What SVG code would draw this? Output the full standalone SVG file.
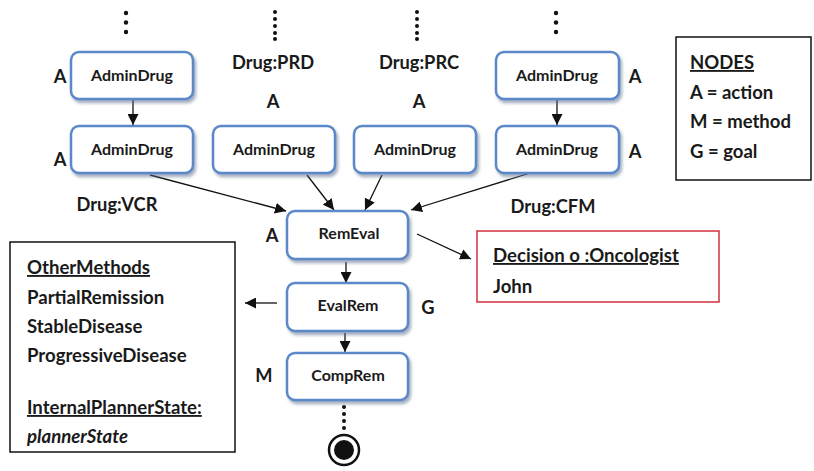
<svg xmlns="http://www.w3.org/2000/svg" width="814" height="471" viewBox="0 0 814 471">
<style>
.box{fill:#ffffff;stroke:#5a88c8;stroke-width:2.5;filter:url(#sh)}
.bt{font-family:Lato,"Liberation Sans",sans-serif;font-weight:bold;font-size:16px;fill:#1a1a1a;text-anchor:middle}
.lbl{font-family:Lato,"Liberation Sans",sans-serif;font-weight:bold;font-size:18.3px;fill:#1a1a1a;text-anchor:middle}
.tx{font-family:Lato,"Liberation Sans",sans-serif;font-weight:bold;font-size:18.6px;fill:#1a1a1a}
.lg{font-family:Lato,"Liberation Sans",sans-serif;font-weight:bold;font-size:18.5px;fill:#1a1a1a}
.u{text-decoration:underline}
.edge{stroke:#111;stroke-width:1.3;fill:none}
.dot{fill:#111}
</style>
<defs>
<filter id="sh" x="-10%" y="-10%" width="125%" height="135%">
<feDropShadow dx="2" dy="3" stdDeviation="1.5" flood-color="#5d6f90" flood-opacity="0.55"/>
</filter>
<marker id="ahb" viewBox="0 0 10 10" refX="10" refY="5" markerWidth="11" markerHeight="11" markerUnits="userSpaceOnUse" orient="auto">
<path d="M0,0 L10,5 L0,10 z" fill="#111"/>
</marker>
</defs>

<g id="connectors">
<line class="edge" x1="133" y1="100" x2="133" y2="125" marker-end="url(#ahb)"/>
<line class="edge" x1="150" y1="175" x2="286" y2="211" marker-end="url(#ahb)"/>
<line class="edge" x1="307" y1="175" x2="334" y2="210" marker-end="url(#ahb)"/>
<line class="edge" x1="382" y1="175" x2="365" y2="210" marker-end="url(#ahb)"/>
<line class="edge" x1="530" y1="173" x2="411" y2="210" marker-end="url(#ahb)"/>
<line class="edge" x1="557" y1="100" x2="557" y2="125" marker-end="url(#ahb)"/>
<line class="edge" x1="417" y1="234" x2="471" y2="259" marker-end="url(#ahb)"/>
<line class="edge" x1="346" y1="262" x2="346" y2="283" marker-end="url(#ahb)"/>
<line class="edge" x1="345" y1="333" x2="345" y2="352" marker-end="url(#ahb)"/>
<line class="edge" x1="277" y1="303" x2="245" y2="303" marker-end="url(#ahb)"/>
</g>

<g id="dots">
<circle class="dot" cx="126" cy="13" r="2.2"/><circle class="dot" cx="126" cy="22.5" r="2.2"/><circle class="dot" cx="126" cy="32" r="2.2"/>
<circle class="dot" cx="275" cy="12" r="2"/><circle class="dot" cx="275" cy="19" r="2"/><circle class="dot" cx="275" cy="26" r="2"/><circle class="dot" cx="275" cy="33" r="2"/><circle class="dot" cx="275" cy="39" r="2"/>
<circle class="dot" cx="417" cy="12" r="2"/><circle class="dot" cx="417" cy="19" r="2"/><circle class="dot" cx="417" cy="26" r="2"/><circle class="dot" cx="417" cy="33" r="2"/><circle class="dot" cx="417" cy="39" r="2"/>
<circle class="dot" cx="556" cy="13" r="2.2"/><circle class="dot" cx="556" cy="22.5" r="2.2"/><circle class="dot" cx="556" cy="32" r="2.2"/>
<circle class="dot" cx="344" cy="407" r="2"/><circle class="dot" cx="344" cy="414" r="2"/><circle class="dot" cx="344" cy="421" r="2"/><circle class="dot" cx="344" cy="428" r="2"/>
</g>

<g id="n1"><rect class="box" x="71" y="52" width="122" height="47" rx="8"/><text class="bt" x="132" y="81">AdminDrug</text><text class="lbl" x="60" y="83">A</text></g>
<g id="n2"><rect class="box" x="71" y="126" width="122" height="47" rx="8"/><text class="bt" x="132" y="155">AdminDrug</text><text class="lbl" x="60" y="166">A</text><text class="lbl" x="117" y="211">Drug:VCR</text></g>
<g id="n3"><rect class="box" x="213" y="126" width="122" height="47" rx="8"/><text class="bt" x="274" y="155">AdminDrug</text><text class="lbl" x="273" y="69">Drug:PRD</text><text class="lbl" x="273" y="108">A</text></g>
<g id="n4"><rect class="box" x="354" y="126" width="122" height="47" rx="8"/><text class="bt" x="415" y="155">AdminDrug</text><text class="lbl" x="419" y="69">Drug:PRC</text><text class="lbl" x="419" y="108">A</text></g>
<g id="n5"><rect class="box" x="496" y="52" width="123" height="47" rx="8"/><text class="bt" x="557" y="81">AdminDrug</text><text class="lbl" x="635" y="83">A</text></g>
<g id="n6"><rect class="box" x="496" y="126" width="123" height="47" rx="8"/><text class="bt" x="557" y="155">AdminDrug</text><text class="lbl" x="635" y="158">A</text><text class="lbl" x="553" y="213">Drug:CFM</text></g>
<g id="n7"><rect class="box" x="287" y="211" width="121" height="48" rx="8"/><text class="bt" x="349" y="239">RemEval</text><text class="lbl" x="272" y="242">A</text></g>
<g id="n8"><rect class="box" x="287" y="283" width="121" height="48" rx="8"/><text class="bt" x="348" y="311">EvalRem</text><text class="lbl" x="428" y="314">G</text></g>
<g id="n9"><rect class="box" x="287" y="353" width="121" height="47" rx="8"/><text class="bt" x="348" y="381">CompRem</text><text class="lbl" x="264" y="382">M</text></g>
<g id="end"><circle cx="344" cy="450" r="15" fill="#fff" stroke="#111" stroke-width="2.5"/><circle cx="344" cy="450" r="10" fill="#111"/></g>

<g id="legend"><rect x="676" y="37" width="135" height="143" fill="#fff" stroke="#111" stroke-width="1.5"/>
<text class="lg u" x="690" y="69">NODES</text>
<text class="lg" x="690" y="99">A = action</text>
<text class="lg" x="690" y="128">M = method</text>
<text class="lg" x="690" y="158">G = goal</text></g>

<g id="decision"><rect x="477" y="231" width="242" height="71" fill="#fff" stroke="#d0313f" stroke-width="1.5"/>
<text class="tx u" x="493" y="262">Decision o :Oncologist</text>
<text class="tx" x="493" y="293">John</text></g>

<g id="other"><rect x="10" y="242" width="225" height="210" fill="#fff" stroke="#111" stroke-width="1.5"/>
<text class="tx u" x="27" y="274">OtherMethods</text>
<text class="tx" x="27" y="304">PartialRemission</text>
<text class="tx" x="27" y="333">StableDisease</text>
<text class="tx" x="27" y="362">ProgressiveDisease</text>
<text class="tx u" x="27" y="414">InternalPlannerState:</text>
<text class="tx" x="27" y="443" font-style="italic">plannerState</text></g>
</svg>
